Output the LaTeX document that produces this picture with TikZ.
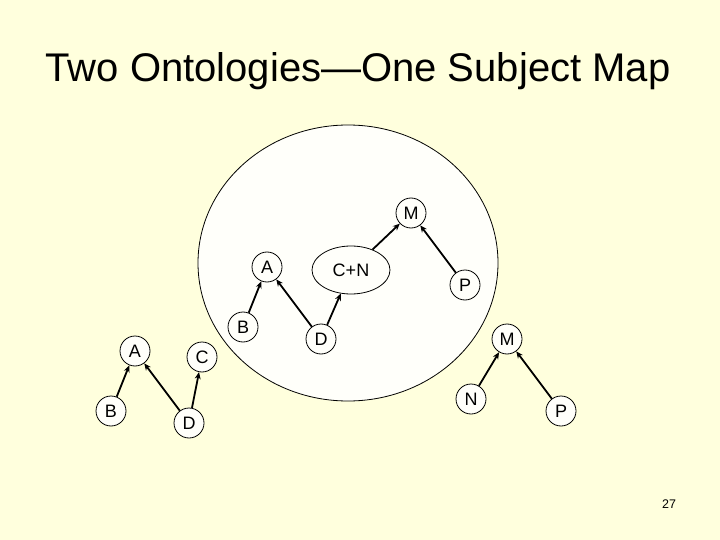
\documentclass[tikz,border=0pt]{standalone}
\usepackage{fontspec}
\setmainfont{Liberation Sans}
\usetikzlibrary{arrows.meta,shapes.geometric}
\definecolor{slidebg}{RGB}{255,255,221}
\definecolor{innerfill}{RGB}{255,255,250}
\tikzset{
  cnode/.style={circle,draw=black,line width=0.8pt,fill=innerfill,minimum size=30pt,inner sep=0pt,font=\fontsize{18}{18}\selectfont},
  enode/.style={ellipse,draw=black,line width=0.8pt,fill=innerfill,minimum width=78pt,minimum height=48pt,inner sep=0pt,font=\fontsize{18}{18}\selectfont},
  arr/.style={line width=1.8pt,-{Stealth[length=7pt,width=6pt]}}
}
\begin{document}
\begin{tikzpicture}[x=1pt,y=-1pt]
\useasboundingbox (0,0) rectangle (720,540);
\fill[slidebg] (0,0) rectangle (720,540);
\node[anchor=base,font=\fontsize{40}{40}\selectfont,inner sep=0pt] (title) at (358,82) {Two Ontologies—One Subject Map};
\draw[line width=0.8pt,fill=innerfill] (348,263) ellipse [x radius=150, y radius=138];
% inner graph
\node[cnode] (iM) at (411,213) {M};
\node[cnode] (iA) at (267,267) {A};
\node[enode] (iCN) at (351,270) {C+N};
\node[cnode] (iP) at (465,285) {P};
\node[cnode] (iB) at (243,327) {B};
\node[cnode] (iD) at (321,339) {D};
\draw[arr] (iB) -- (iA);
\draw[arr] (iD) -- (iA);
\draw[arr] (iD) -- (iCN);
\draw[arr] (iCN) -- (iM);
\draw[arr] (iP) -- (iM);
% left graph
\node[cnode] (lA) at (135,351) {A};
\node[cnode] (lC) at (202,357) {C};
\node[cnode] (lB) at (111,411) {B};
\node[cnode] (lD) at (189,423) {D};
\draw[arr] (lB) -- (lA);
\draw[arr] (lD) -- (lA);
\draw[arr] (lD) -- (lC);
% right graph
\node[cnode] (rM) at (507,339) {M};
\node[cnode] (rN) at (471,399) {N};
\node[cnode] (rP) at (561,411) {P};
\draw[arr] (rN) -- (rM);
\draw[arr] (rP) -- (rM);
\node[font=\fontsize{12.5}{12.5}\selectfont,inner sep=0pt] (pnum) at (669,504) {27};
\end{tikzpicture}
\end{document}
